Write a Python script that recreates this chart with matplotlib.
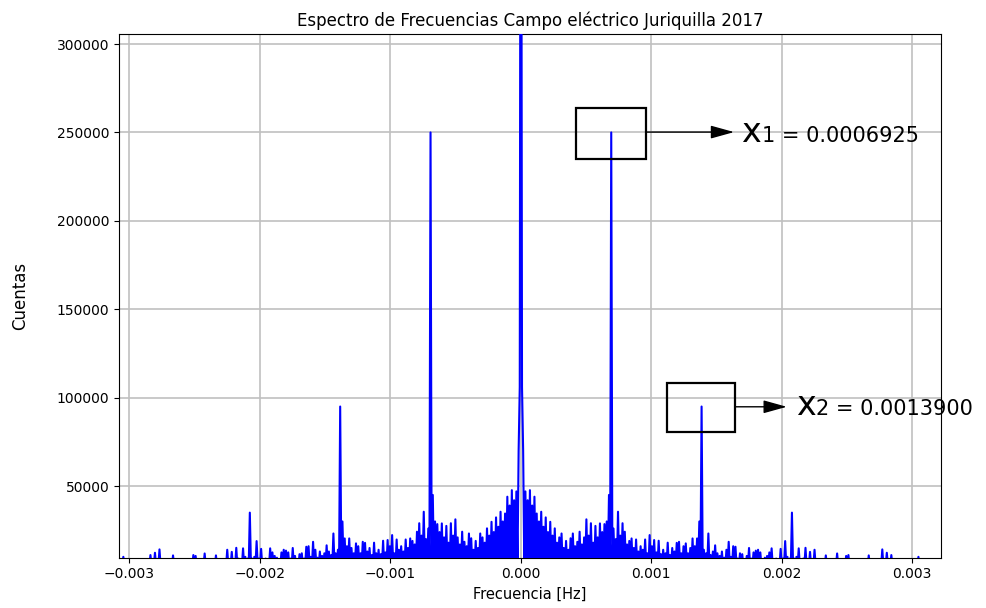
import numpy as np
import matplotlib
matplotlib.use("Agg")
import matplotlib.pyplot as plt
from matplotlib.patches import Rectangle

# FFT bin spacing (the 1st harmonic sits on bin 40)
f1 = 0.0006925
f2 = 0.0013900
df = f1 / 40

# magnitude of the positive-frequency bins 0..178
# (spectrum of a real signal -> mirrored for negative frequencies)
amp_pos = [
    620000, 70000, 47000, 42000, 47700, 39000, 44000, 34500, 30000, 35500,    # 0-9
    27000, 32300, 24000, 29800, 22000, 26100, 18000, 21000, 23200, 15000,     # 10-19
    19000, 14000, 20500, 23200, 16000, 18500, 24200, 17000, 21000, 31200,     # 20-29
    22000, 29000, 18000, 27500, 21000, 28900, 24000, 28500, 30000, 45000,     # 30-39
    250000, 26000, 20000, 35500, 22000, 29000, 24200, 17000, 19000, 20400,    # 40-49
    15000, 19800, 13000, 16000, 14000, 19800, 12000, 22300, 16000, 19500,     # 50-59
    12500, 19100, 11500, 14000, 12000, 18000, 11000, 15000, 13000, 17900,     # 60-69
    18500, 12000, 16000, 17600, 12000, 15000, 20400, 16000, 20400, 30000,     # 70-79
    95000, 14000, 12000, 23200, 11000, 13000, 16500, 12000, 10500, 13000,     # 80-89
    9500, 14000, 18500, 10000, 16000, 15700, 9000, 12000, 11500, 8500,        # 90-99
    10500, 15000, 9000, 12500, 13500, 14000, 12500, 8000, 9500, 10500,        # 100-109
    12500, 14800, 8000, 9000, 7000, 14500, 9000, 18900, 10000, 9000,          # 110-119
    35000, 9000, 10000, 14800, 8000, 9000, 15100, 8000, 12800, 7000,          # 120-129
    14000, 6000, 7000, 6000, 6500, 10800, 6000, 6000, 6000, 6000,             # 130-139
    11900, 6000, 6000, 6000, 10500, 11000, 6000, 6000, 6000, 6000,            # 140-149
    6000, 6000, 6000, 6000, 10800, 6000, 6000, 6000, 6000, 6000,              # 150-159
    14200, 6000, 12300, 6000, 11000, 6000, 6000, 6000, 6000, 6000,            # 160-169
    6000, 6000, 6000, 6000, 6000, 6000, 10000, 6000, 6000,                    # 170-178
]

# dips between neighbouring bins drop below the axis; only the one next to DC stays high
trough_dc = 106000
trough_far = 5000

amp_pos = np.array(amp_pos, dtype=float)
n = len(amp_pos)
troughs = np.full(n, trough_far, dtype=float)
troughs[0] = trough_dc

# interleave peaks (on the bins) and dips (half way between bins)
f_all = np.empty(2 * n)
a_all = np.empty(2 * n)
f_all[0::2] = np.arange(n) * df
f_all[1::2] = (np.arange(n) + 0.5) * df
a_all[0::2] = amp_pos
a_all[1::2] = troughs

freqs = np.concatenate([-f_all[:0:-1], f_all])
amps = np.concatenate([a_all[:0:-1], a_all])

x_ticks = [-0.003, -0.002, -0.001, 0.0, 0.001, 0.002, 0.003]
y_ticks = [50000, 100000, 150000, 200000, 250000, 300000]

fig = plt.figure(figsize=(9.87, 6.08), dpi=100)
ax = fig.add_axes([0.1206, 0.0827, 0.8328, 0.8609])

ax.plot(freqs, amps, color="b", lw=1.5, zorder=3)
ax.set_xlim(-0.00308, 0.00322)
ax.set_ylim(9500, 305500)
ax.set_xticks(x_ticks)
ax.set_yticks(y_ticks)
ax.tick_params(labelsize=10)
ax.grid(True, color="#c0c0c0", lw=1.2, zorder=0)

ax.set_title("Espectro de Frecuencias Campo eléctrico Juriquilla 2017", fontsize=12)
ax.set_xlabel("Frecuencia [Hz]", fontsize=10.5)
ax.set_ylabel("Cuentas", fontsize=12, labelpad=20)

# annotation boxes + arrows
ax.add_patch(Rectangle((0.000421, 234780), 0.000536, 29190, fill=False,
                       ec="black", lw=1.6, zorder=4))
ax.add_patch(Rectangle((0.001123, 80710), 0.000516, 27720, fill=False,
                       ec="black", lw=1.6, zorder=4))

arrow_kw = dict(arrowstyle="-|>,head_length=0.72,head_width=0.2", color="black",
                lw=1.0, mutation_scale=20, shrinkA=0, shrinkB=0)
ax.annotate("", xy=(0.001634, 250200), xytext=(0.000957, 250200),
            arrowprops=arrow_kw, annotation_clip=False, zorder=5)
ax.annotate("", xy=(0.002038, 94850), xytext=(0.001639, 94850),
            arrowprops=arrow_kw, annotation_clip=False, zorder=5)

ax.text(0.001685, 244700, "x", fontsize=24, va="baseline", ha="left", clip_on=False)
ax.text(0.00185, 244700, "1 = 0.0006925", fontsize=15, va="baseline", ha="left", clip_on=False)
ax.text(0.002106, 90160, "x", fontsize=24, va="baseline", ha="left", clip_on=False)
ax.text(0.002259, 90160, "2 = 0.0013900", fontsize=15, va="baseline", ha="left", clip_on=False)

fig.savefig("out.png", dpi=100)
